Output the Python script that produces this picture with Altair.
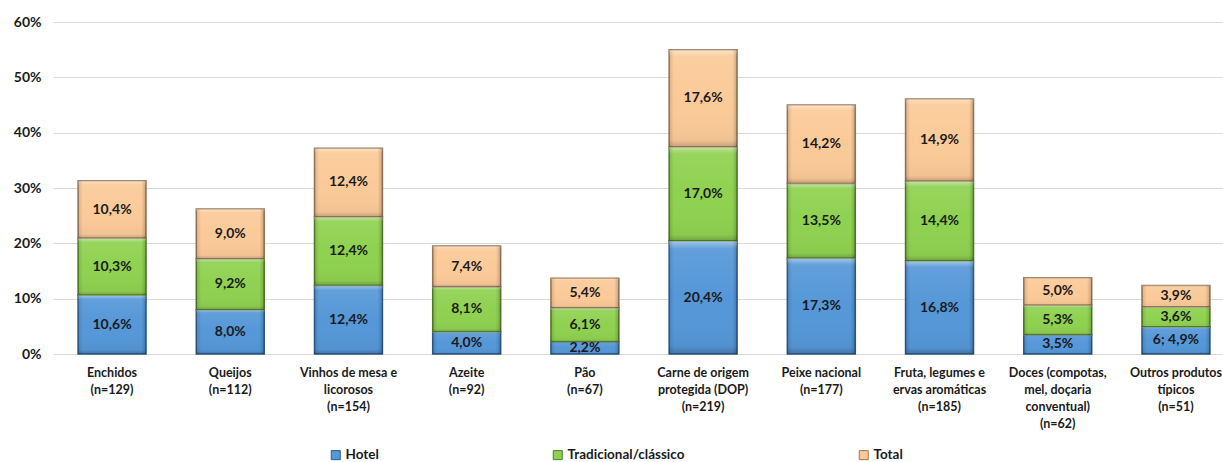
import altair as alt
import pandas as pd

categories = [
    "Enchidos|(n=129)",
    "Queijos|(n=112)",
    "Vinhos de mesa e|licorosos|(n=154)",
    "Azeite|(n=92)",
    "Pão|(n=67)",
    "Carne de origem|protegida (DOP)|(n=219)",
    "Peixe nacional|(n=177)",
    "Fruta, legumes e|ervas aromáticas|(n=185)",
    "Doces (compotas,|mel, doçaria|conventual)|(n=62)",
    "Outros produtos|típicos|(n=51)",
]
series = ["Hotel", "Tradicional/clássico", "Total"]
hotel = [10.6, 8.0, 12.4, 4.0, 2.2, 20.4, 17.3, 16.8, 3.5, 4.9]
tradicional = [10.3, 9.2, 12.4, 8.1, 6.1, 17.0, 13.5, 14.4, 5.3, 3.6]
total = [10.4, 9.0, 12.4, 7.4, 5.4, 17.6, 14.2, 14.9, 5.0, 3.9]
hotel_labels = ["10,6%", "8,0%", "12,4%", "4,0%", "2,2%", "20,4%", "17,3%", "16,8%", "3,5%", "6; 4,9%"]
tradicional_labels = ["10,3%", "9,2%", "12,4%", "8,1%", "6,1%", "17,0%", "13,5%", "14,4%", "5,3%", "3,6%"]
total_labels = ["10,4%", "9,0%", "12,4%", "7,4%", "5,4%", "17,6%", "14,2%", "14,9%", "5,0%", "3,9%"]
fill_colors = ["#5597d8", "#8fd150", "#fbca98"]
stroke_colors = ["#2c5a88", "#4f7d28", "#9a7858"]

rows = []
for vals, labs, s, o in zip([hotel, tradicional, total],
                            [hotel_labels, tradicional_labels, total_labels],
                            series, range(3)):
    for c, v, l in zip(categories, vals, labs):
        rows.append({"cat": c, "serie": s, "value": v / 100, "label": l, "ord": o})
df = pd.DataFrame(rows)

FONT = "Lato"

x_scale = alt.Scale(range=[0, 1182], paddingInner=0.425, paddingOuter=0.212)
x_enc = alt.X(
    "cat:N", sort=categories, title=None, scale=x_scale,
    axis=alt.Axis(labelExpr="split(datum.label, '|')", labelAngle=0, domain=False,
                  ticks=False, labelPadding=12, labelFont=FONT, labelFontSize=12.5,
                  labelFontWeight="bold", labelColor="#1a1a1a", labelLineHeight=17,
                  labelBaseline="top", labelLimit=200),
)
y_scale = alt.Scale(domain=[0, 0.6])

base = alt.Chart(df)

bars = base.mark_bar(strokeWidth=1.5).encode(
    x=x_enc,
    y=alt.Y("value:Q", stack="zero", title=None, scale=y_scale,
            axis=alt.Axis(format=".0%", values=[0, 0.1, 0.2, 0.3, 0.4, 0.5, 0.6],
                          domain=False, ticks=False, labelPadding=12,
                          labelFont=FONT, labelFontSize=14, labelFontWeight="bold",
                          labelColor="#1a1a1a", gridColor="#d9d9d9", gridWidth=1)),
    color=alt.Color("serie:N", sort=series, title=None,
                    scale=alt.Scale(domain=series, range=fill_colors),
                    legend=alt.Legend(orient="none", legendX=276, legendY=426,
                                      direction="horizontal", columnPadding=172,
                                      symbolType="square", symbolSize=81,
                                      symbolStrokeWidth=1, labelFont=FONT,
                                      labelFontSize=13.5, labelFontWeight="bold",
                                      labelColor="#1a1a1a", labelOffset=3)),
    stroke=alt.Stroke("serie:N", scale=alt.Scale(domain=series, range=stroke_colors),
                      legend=None),
    order=alt.Order("ord:Q"),
)

vgrad = alt.Gradient(
    gradient="linear", x1=0, y1=0, x2=0, y2=1,
    stops=[
        alt.GradientStop(color="rgba(255,255,255,0.45)", offset=0),
        alt.GradientStop(color="rgba(255,255,255,0.08)", offset=0.07),
        alt.GradientStop(color="rgba(255,255,255,0)", offset=0.5),
        alt.GradientStop(color="rgba(0,0,0,0.04)", offset=0.93),
        alt.GradientStop(color="rgba(0,0,0,0.22)", offset=1),
    ],
)
hgrad = alt.Gradient(
    gradient="linear", x1=0, y1=0, x2=1, y2=0,
    stops=[
        alt.GradientStop(color="rgba(0,0,0,0.14)", offset=0),
        alt.GradientStop(color="rgba(0,0,0,0)", offset=0.07),
        alt.GradientStop(color="rgba(0,0,0,0)", offset=0.93),
        alt.GradientStop(color="rgba(0,0,0,0.2)", offset=1),
    ],
)

def overlay(grad):
    return base.mark_bar(color=grad, strokeWidth=0).encode(
        x=alt.X("cat:N", sort=categories, scale=x_scale),
        y=alt.Y("value:Q", stack="zero", scale=y_scale),
        detail="serie:N",
        order=alt.Order("ord:Q"),
    )

texts = base.transform_stack(
    stack="value", groupby=["cat"], as_=["y0", "y1"],
    sort=[alt.SortField("ord", order="ascending")],
).transform_calculate(
    mid="(datum.y0 + datum.y1) / 2"
).mark_text(font=FONT, fontSize=14, fontWeight="bold", color="#1a1a1a",
            baseline="middle").encode(
    x=alt.X("cat:N", sort=categories, scale=x_scale),
    y=alt.Y("mid:Q", scale=y_scale),
    text="label:N",
)

chart = alt.layer(bars, overlay(vgrad), overlay(hgrad), texts).properties(
    width=1170, height=332,
    autosize=alt.AutoSizeParams(type="none"),
    padding={"left": 53, "top": 22, "right": 0, "bottom": 108},
).configure_view(stroke=None)

chart.save("out.html", embed_options={"renderer": "svg", "actions": False})
